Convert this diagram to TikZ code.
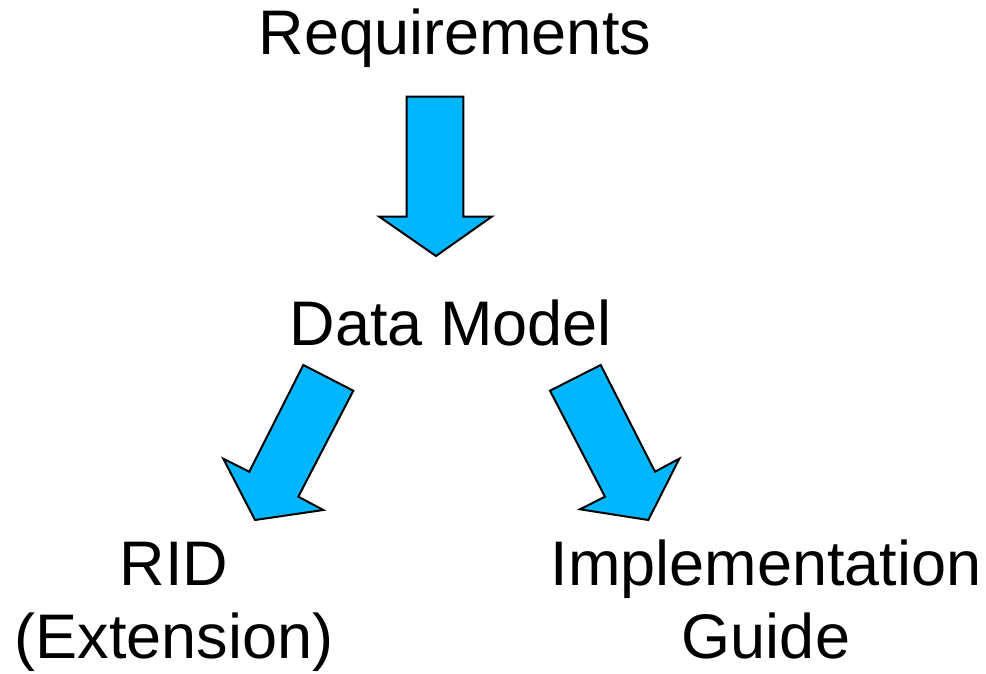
\documentclass[tikz,border=0pt]{standalone}
\usepackage{fontspec}
\setmainfont{Liberation Sans}
\definecolor{arrowblue}{RGB}{0,183,255}
\begin{document}
\begin{tikzpicture}[x=1pt,y=-1pt,
  lbl/.style={font=\fontsize{63}{73}\selectfont, align=center, anchor=base, inner sep=0pt},
  blockarrow/.style={fill=arrowblue, draw=black, line width=2pt, line join=miter}]
\useasboundingbox (0,0) rectangle (986,674);
\node[lbl] (req) at (455,55) {Requirements};
\node[lbl] (dm) at (451,345) {Data Model};
\node[lbl] (rid) at (174,658) {RID\\(Extension)};
\node[lbl] (ig) at (766,658) {Implementation\\Guide};
% down arrow
\draw[blockarrow] (406.7,96.7) -- (463.3,96.7) -- (463.3,216.7) -- (491.7,216.7)
  -- (436,256) -- (379.3,216.7) -- (406.7,216.7) -- cycle;
% left arrow
\draw[blockarrow] (303.3,365) -- (353.3,390.7) -- (298.3,496.7) -- (323.3,510)
  -- (255,520) -- (223.3,458.7) -- (249.3,471.7) -- cycle;
% right arrow
\draw[blockarrow] (550,390.7) -- (600.7,365) -- (655,471.7) -- (679.3,458.7)
  -- (648.3,520) -- (580,509.3) -- (605,496.7) -- cycle;
\end{tikzpicture}
\end{document}
